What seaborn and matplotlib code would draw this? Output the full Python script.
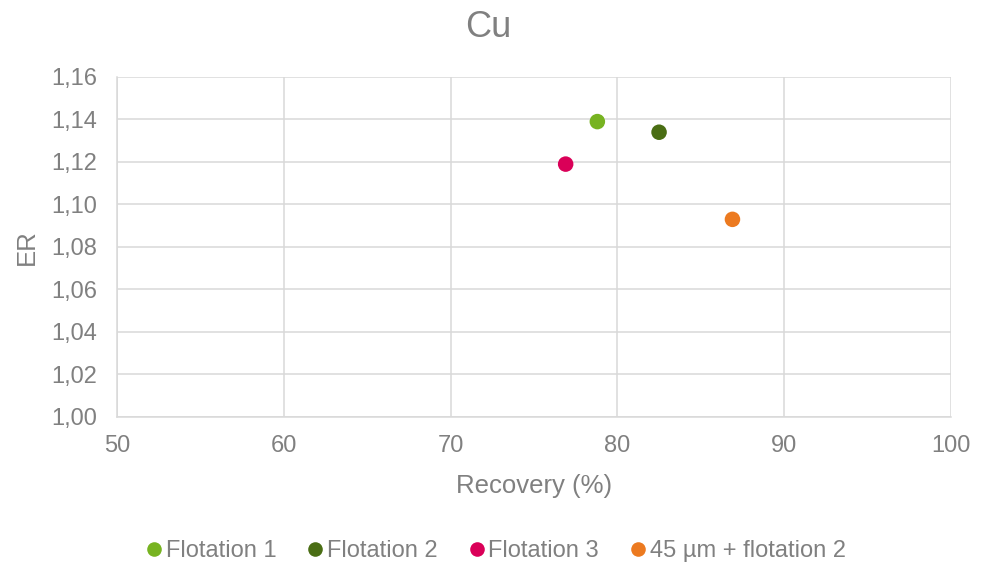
import matplotlib
matplotlib.use("Agg")
import matplotlib.pyplot as plt
from matplotlib.ticker import FuncFormatter, MultipleLocator
import seaborn as sns
import pandas as pd

# Recovery / enrichment ratio results for copper
series = ["Flotation 1", "Flotation 2", "Flotation 3", "45 µm + flotation 2"]
recovery = [78.8, 82.5, 76.9, 86.9]
er = [1.139, 1.134, 1.119, 1.093]
colors = ["#77B321", "#4A6E14", "#DA0058", "#EC7A20"]

df = pd.DataFrame({"series": series, "Recovery": recovery, "ER": er})

sns.set_theme(style="white")
plt.rcParams["font.family"] = ["Liberation Sans", "DejaVu Sans"]
text_color = "#808080"
grid_color = "#D9D9D9"

fig = plt.figure(figsize=(9.82, 5.66), dpi=100)
ax = fig.add_axes([0.1191, 0.2633, 0.8493, 0.6007])

sns.scatterplot(data=df, x="Recovery", y="ER", hue="series",
                palette=dict(zip(series, colors)), s=125, linewidth=0,
                ax=ax, legend=False, zorder=3)

ax.set_xlim(50, 100)
ax.set_ylim(1.00, 1.16)
ax.xaxis.set_major_locator(MultipleLocator(10))
ax.yaxis.set_major_locator(MultipleLocator(0.02))
ax.yaxis.set_major_formatter(FuncFormatter(lambda v, p: f"{v:.2f}".replace(".", ",")))
ax.xaxis.set_major_formatter(FuncFormatter(lambda v, p: f"{v:.0f}"))

ax.grid(True, color=grid_color, linewidth=1.1)
ax.set_axisbelow(True)
for side in ["top", "right"]:
    ax.spines[side].set_visible(False)
for side in ["left", "bottom"]:
    ax.spines[side].set_color(grid_color)
    ax.spines[side].set_linewidth(1.1)
ax.tick_params(axis="y", colors=text_color, labelsize=17, length=0, pad=14)
ax.tick_params(axis="x", colors=text_color, labelsize=17, length=0, pad=13)

ax.set_xlabel("Recovery (%)", color=text_color, fontsize=18.5, labelpad=12)
ax.set_ylabel("ER", color=text_color, fontsize=18.5, labelpad=9)
fig.text(0.497, 0.951, "Cu", ha="center", va="center", fontsize=26, color=text_color)

handles = [plt.Line2D([], [], marker="o", linestyle="", markersize=10.5,
                      markerfacecolor=c, markeredgewidth=0) for c in colors]
fig.legend(handles, series, loc="center", bbox_to_anchor=(0.503, 0.026), ncol=4,
           frameon=False, fontsize=17, handletextpad=0.0, columnspacing=1.15,
           handlelength=1.0, labelcolor=text_color)

fig.savefig("out.png", dpi=100)
